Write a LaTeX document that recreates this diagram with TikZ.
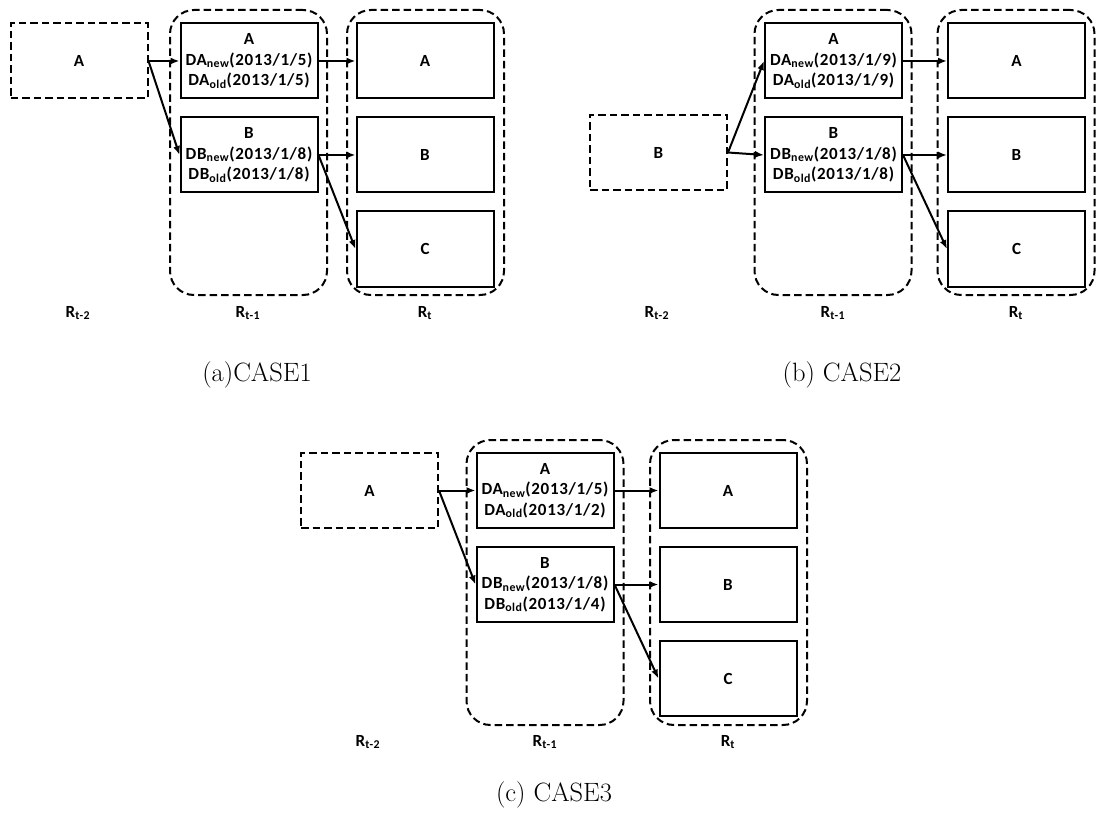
\documentclass[tikz,border=0pt]{standalone}
\usepackage{fontspec}
\newfontfamily\boxfont{Carlito}[LetterSpace=4]
\usetikzlibrary{positioning, arrows.meta}

\begin{document}
\begin{tikzpicture}[x=1pt, y=-1pt, node distance=17pt]
    \tikzset{
      dashline/.style={dash pattern=on 7.5pt off 4pt},
      cell/.style={
        rectangle, draw=black, line width=2pt,
        minimum width=137pt, minimum height=75pt, inner sep=0pt,
        align=center, font=\boxfont\bfseries\fontsize{17}{20.5}\selectfont
      },
      oldcell/.style={cell, dashline},
      group/.style={
        rectangle, rounded corners=24pt, draw=black, line width=2pt, dashline,
        minimum width=157pt, minimum height=285pt, inner sep=0pt
      },
      rlabel/.style={anchor=base, font=\boxfont\bfseries\fontsize{17}{20}\selectfont},
      caption/.style={font=\fontsize{26.5}{30}\selectfont},
      conn/.style={line width=2pt, -{Latex[length=9pt,width=7pt]}}
    }
    \useasboundingbox (0,0) rectangle (1097,818);

    % (a) CASE1
    \node[group] (ag1) at (248.5,152.5) {};
    \node[group] (ag2) at (425.5,152.5) {};
    \node[oldcell] (a0) at (79,61) {A};
    \node[cell] (a1) at (249,61) {A\\DA\textsubscript{new}(2013/1/5)\\DA\textsubscript{old}(2013/1/5)};
    \node[cell, below=of a1] (a2) {B\\DB\textsubscript{new}(2013/1/8)\\DB\textsubscript{old}(2013/1/8)};
    \node[cell] (a3) at (425,61) {A};
    \node[cell, below=of a3] (a4) {B};
    \node[cell, below=of a4] (a5) {C};
    \node[rlabel] (al0) at (78,317) {R\textsubscript{t-2}};
    \node[rlabel] (al1) at (248,317) {R\textsubscript{t-1}};
    \node[rlabel] (al2) at (425,317) {R\textsubscript{t}};
    \node[caption] (acap) at (257,375) {(a)CASE1};

    \draw[conn] (a0.east) -- (a1.west);
    \draw[conn] (a0.east) -- (a2.west);
    \draw[conn] (a1.east) -- (a3.west);
    \draw[conn] (a2.east) -- (a4.west);
    \draw[conn] (a2.east) -- (a5.west);

    % (b) CASE2
    \node[group] (bg1) at (833,152.5) {};
    \node[group] (bg2) at (1016,152.5) {};
    \node[oldcell] (b0) at (658.5,152.5) {B};
    \node[cell] (b1) at (833.5,61) {A\\DA\textsubscript{new}(2013/1/9)\\DA\textsubscript{old}(2013/1/9)};
    \node[cell, below=of b1] (b2) {B\\DB\textsubscript{new}(2013/1/8)\\DB\textsubscript{old}(2013/1/8)};
    \node[cell] (b3) at (1016.5,61) {A};
    \node[cell, below=of b3] (b4) {B};
    \node[cell, below=of b4] (b5) {C};
    \node[rlabel] (bl0) at (657,317) {R\textsubscript{t-2}};
    \node[rlabel] (bl1) at (833,317) {R\textsubscript{t-1}};
    \node[rlabel] (bl2) at (1016,317) {R\textsubscript{t}};
    \node[caption] (bcap) at (842,375) {(b) CASE2};

    \draw[conn] (b0.east) -- (b1.west);
    \draw[conn] (b0.east) -- (b2.west);
    \draw[conn] (b1.east) -- (b3.west);
    \draw[conn] (b2.east) -- (b4.west);
    \draw[conn] (b2.east) -- (b5.west);

    % (c) CASE3
    \node[group] (cg1) at (545,582.5) {};
    \node[group] (cg2) at (728.5,582.5) {};
    \node[oldcell] (c0) at (369.5,490.5) {A};
    \node[cell] (c1) at (545,490.5) {A\\DA\textsubscript{new}(2013/1/5)\\DA\textsubscript{old}(2013/1/2)};
    \node[cell, below=of c1] (c2) {B\\DB\textsubscript{new}(2013/1/8)\\DB\textsubscript{old}(2013/1/4)};
    \node[cell] (c3) at (728,490.5) {A};
    \node[cell, below=of c3] (c4) {B};
    \node[cell, below=of c4] (c5) {C};
    \node[rlabel] (cl0) at (368,746) {R\textsubscript{t-2}};
    \node[rlabel] (cl1) at (545,746) {R\textsubscript{t-1}};
    \node[rlabel] (cl2) at (728,746) {R\textsubscript{t}};
    \node[caption] (ccap) at (554,795) {(c) CASE3};

    \draw[conn] (c0.east) -- (c1.west);
    \draw[conn] (c0.east) -- (c2.west);
    \draw[conn] (c1.east) -- (c3.west);
    \draw[conn] (c2.east) -- (c4.west);
    \draw[conn] (c2.east) -- (c5.west);
  \end{tikzpicture}
\end{document}
